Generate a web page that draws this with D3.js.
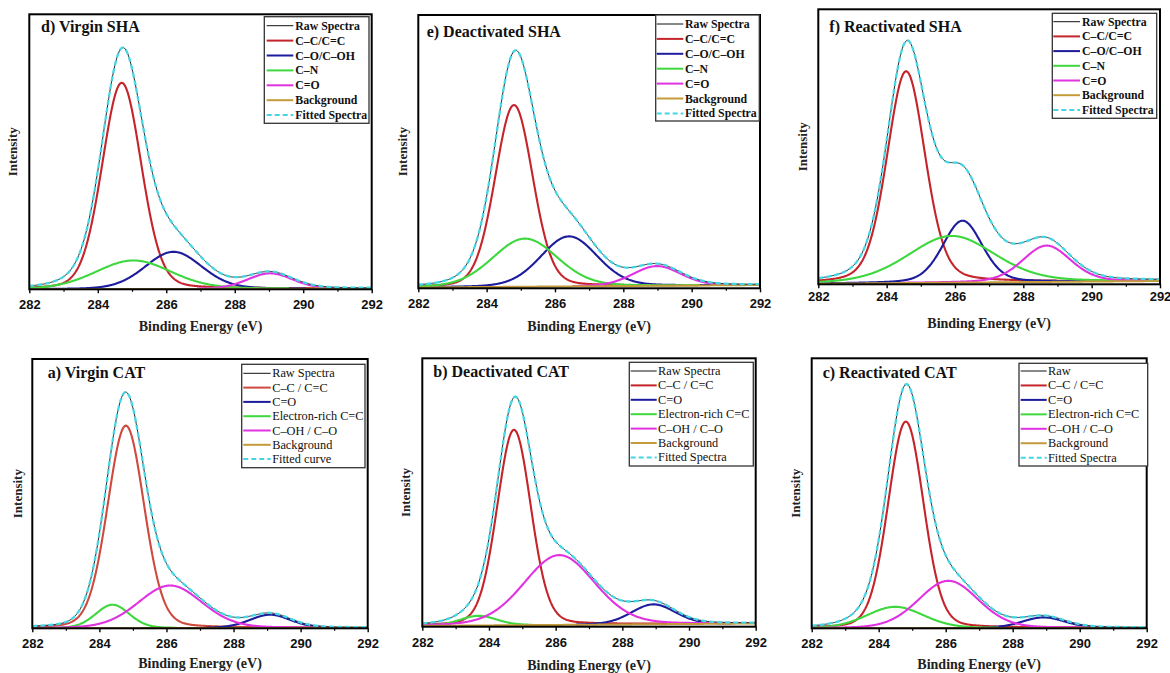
<!DOCTYPE html>
<html>
<head>
<meta charset="utf-8">
<script src="https://cdn.jsdelivr.net/npm/d3@7"></script>
<style>
  body { margin: 0; background: #fff; }
</style>
</head>
<body>
<svg id="fig" width="1170" height="673"></svg>
<script>
// ---------- C 1s deconvolution results (binding energy in eV, intensity in normalised units) ----------
const energyDomain = [282, 292];
const energyTicks = [282, 284, 286, 288, 290, 292];
const minorTicks = [283, 285, 287, 289, 291];

const panelTitles = ["d) Virgin SHA", "e) Deactivated SHA", "f) Reactivated SHA",
                     "a) Virgin CAT", "b) Deactivated CAT", "c) Reactivated CAT"];

// legend entries: raw, four components, background, fit
const shaLegend = ["Raw Spectra", "C–C/C=C", "C–O/C–OH", "C–N", "C=O", "Background", "Fitted Spectra"];
const catLegendA = ["Raw Spectra", "C–C / C=C", "C=O", "Electron-rich C=C", "C–OH / C–O", "Background", "Fitted curve"];
const catLegendB = ["Raw Spectra", "C–C / C=C", "C=O", "Electron-rich C=C", "C–OH / C–O", "Background", "Fitted Spectra"];
const catLegendC = ["Raw", "C–C / C=C", "C=O", "Electron-rich C=C", "C–OH / C–O", "Background", "Fitted Spectra"];

// component order per panel follows the legend (entries 2–5)
// d) Virgin SHA: C–C/C=C, C–O/C–OH, C–N, C=O
const dCentres = [284.70, 286.21, 285.04, 289.03];
const dHeights = [75.0, 13.5, 10.4, 5.6];
const dFwhm    = [1.35, 1.95, 2.6, 1.55];
const dBackground = [0.0, 0.3];
// e) Deactivated SHA
const eCentres = [284.80, 286.41, 285.12, 288.98];
const eHeights = [66.5, 18.3, 17.6, 7.2];
const eFwhm    = [1.30, 1.95, 2.24, 1.65];
const eBackground = [0.3, 1.2];
// f) Reactivated SHA
const fCentres = [284.57, 286.22, 285.90, 288.68];
const fHeights = [77.0, 22.5, 17.0, 13.2];
const fFwhm    = [1.32, 1.37, 3.0, 1.66];
const fBackground = [0.2, 1.2];
// a) Virgin CAT: C–C/C=C, C=O, electron-rich C=C, C–OH/C–O
const aCentres = [284.79, 289.09, 284.39, 286.11];
const aHeights = [75.2, 4.9, 8.7, 15.8];
const aFwhm    = [1.29, 1.44, 1.19, 2.24];
const aBackground = [0.0, 0.2];
// b) Deactivated CAT
const bCentres = [284.75, 288.93, 283.68, 286.11];
const bHeights = [72.8, 7.4, 3.6, 26.0];
const bFwhm    = [1.20, 1.55, 1.30, 2.50];
const bBackground = [0.3, 1.2];
// c) Reactivated CAT
const cCentres = [284.81, 288.92, 284.49, 286.08];
const cHeights = [76.5, 3.9, 7.9, 17.5];
const cFwhm    = [1.25, 1.50, 2.00, 2.10];
const cBackground = [0.0, 0.2];

// Lorentzian fraction of the pseudo-Voigt line shape used by each fit
const lorentzFraction = [0.15, 0.15, 0.25, 0.15, 0.15, 0.15];

const panels = [
  { centres: dCentres, heights: dHeights, fwhm: dFwhm, bg: dBackground, legend: shaLegend },
  { centres: eCentres, heights: eHeights, fwhm: eFwhm, bg: eBackground, legend: shaLegend },
  { centres: fCentres, heights: fHeights, fwhm: fFwhm, bg: fBackground, legend: shaLegend },
  { centres: aCentres, heights: aHeights, fwhm: aFwhm, bg: aBackground, legend: catLegendA },
  { centres: bCentres, heights: bHeights, fwhm: bFwhm, bg: bBackground, legend: catLegendB },
  { centres: cCentres, heights: cHeights, fwhm: cFwhm, bg: cBackground, legend: catLegendC }
];

// ---------- layout & style ----------
const serif = "'Liberation Serif', 'Times New Roman', serif";
const sans = "'Liberation Sans', Arial, sans-serif";

const layout = [
  { L: 29.3,  R: 371.7,  T: 14.3,  B: 289.3, tx: 41,    ty: 32,    yl: 12.8,  tickDy: 20,   xlDy: 42,
    leg: { x: 264.3,  y: 16.7,  w: 104.7, h: 106.6, r0: 25.7,  dy: 14.9,  l1: 2.4, l2: 29,   t: 31,   fs: 11.8, fw: "bold" } },
  { L: 418.3, R: 760,    T: 15,    B: 288.3, tx: 426.7, ty: 37,    yl: 402.5, tickDy: 20,   xlDy: 43,
    leg: { x: 655.7,  y: 15,    w: 103.6, h: 106,   r0: 24,    dy: 14.9,  l1: 1.0, l2: 27.6, t: 29.3, fs: 11.8, fw: "bold" } },
  { L: 818.3, R: 1160,   T: 9.3,   B: 284.3, tx: 829.3, ty: 31.7,  yl: 802,   tickDy: 16.7, xlDy: 44,
    leg: { x: 1052.3, y: 13.3,  w: 104.4, h: 105,   r0: 21.7,  dy: 14.7,  l1: 1.0, l2: 27.7, t: 29.7, fs: 11.8, fw: "bold" } },
  { L: 32.3,  R: 367.7,  T: 359,   B: 628.3, tx: 47.7,  ty: 378.3, yl: 17.5,  tickDy: 20,   xlDy: 40,
    leg: { x: 241.7,  y: 364.3, w: 123.3, h: 103.4, r0: 373.3, dy: 14.3,  l1: 1.6, l2: 29,   t: 30.5, fs: 12.3, fw: "normal" } },
  { L: 422.3, R: 755.7,  T: 358.3, B: 626.7, tx: 433.3, ty: 376.7, yl: 405,   tickDy: 20.6, xlDy: 43,
    leg: { x: 629.3,  y: 362.3, w: 124,   h: 103.7, r0: 371,   dy: 14.4,  l1: 1.4, l2: 27.4, t: 28.8, fs: 12.3, fw: "normal" } },
  { L: 811.7, R: 1146.7, T: 358.3, B: 628.3, tx: 822.7, ty: 377.7, yl: 795,   tickDy: 19.7, xlDy: 41,
    leg: { x: 1019,   y: 363.3, w: 128.7, h: 102.7, r0: 371,   dy: 14.45, l1: 1.7, l2: 27.7, t: 29,   fs: 12.3, fw: "normal" } }
];

const redSHA = "#c4242a", redCAT = "#cf4a3e";
const colBlue = "#1c1c9c", colGreen = "#3ed83e", colMagenta = "#e032e0";
const colBg = "#c49a3a", colFit = "#45d6e6";

const svg = d3.select("#fig");

function pseudoVoigt(e, c, h, w, eta) {
  const u = (e - c) / w;
  return h * ((1 - eta) * Math.exp(-4 * Math.LN2 * u * u) + eta / (1 + 4 * u * u));
}

const grid = d3.range(energyDomain[0], energyDomain[1] + 1e-9, 0.02);

panels.forEach((p, i) => {
  const lay = layout[i];
  // SHA: C–O is blue, C–N green, C=O magenta; CAT: C=O blue, e-rich green, C–OH magenta
  const colours = [i === 3 ? redCAT : redSHA, colBlue, colGreen, colMagenta];
  const x = d3.scaleLinear().domain(energyDomain).range([lay.L, lay.R]);
  const y = d3.scaleLinear().domain([0, 100]).range([lay.B, lay.T]);

  const g = svg.append("g");
  const clipId = "clip" + i;
  g.append("clipPath").attr("id", clipId)
    .append("rect").attr("x", lay.L).attr("y", lay.T)
    .attr("width", lay.R - lay.L).attr("height", lay.B - lay.T);

  const bgAt = e => p.bg[0] + (p.bg[1] - p.bg[0]) * (e - energyDomain[0]) / (energyDomain[1] - energyDomain[0]);
  const comps = p.centres.map((c, k) =>
    grid.map(e => ({ e, v: pseudoVoigt(e, c, p.heights[k], p.fwhm[k], lorentzFraction[i]) })));
  const envelope = grid.map((e, j) => ({ e, v: bgAt(e) + d3.sum(comps, cp => cp[j].v) }));

  const line = d3.line().x(d => x(d.e)).y(d => y(d.v)).curve(d3.curveLinear);
  const plot = g.append("g").attr("clip-path", `url(#${clipId})`);

  // components, drawn on top of the background where they are non-negligible
  comps.forEach((cp, k) => {
    const pts = cp.filter(d => d.v > 0.12).map(d => ({ e: d.e, v: d.v + bgAt(d.e) }));
    plot.append("path").datum(pts)
      .attr("d", line).attr("fill", "none")
      .attr("stroke", colours[k]).attr("stroke-width", 2.1)
      .attr("stroke-linejoin", "round");
  });
  // background
  plot.append("path").datum(grid.map(e => ({ e, v: bgAt(e) })))
    .attr("d", line).attr("fill", "none").attr("stroke", colBg).attr("stroke-width", 2);
  // raw spectrum
  plot.append("path").datum(envelope)
    .attr("d", line).attr("fill", "none").attr("stroke", "#222").attr("stroke-width", 1);
  // fitted envelope
  plot.append("path").datum(envelope)
    .attr("d", line).attr("fill", "none").attr("stroke", colFit)
    .attr("stroke-width", 2.3).attr("stroke-dasharray", "5,3");

  // axes
  const ax = g.append("g").attr("transform", `translate(0,${lay.B})`)
    .call(d3.axisBottom(x).tickValues(energyTicks).tickSize(4).tickSizeOuter(0));
  ax.select(".domain").remove();
  ax.selectAll("line").attr("stroke", "#000").attr("stroke-width", 1.4);
  ax.selectAll("text")
    .attr("y", lay.tickDy).attr("dy", 0)
    .attr("font-family", sans).attr("font-size", 13).attr("font-weight", "bold").attr("fill", "#111");
  const axm = g.append("g").attr("transform", `translate(0,${lay.B})`)
    .call(d3.axisBottom(x).tickValues(minorTicks).tickSize(2.5).tickFormat(""));
  axm.select(".domain").remove();
  axm.selectAll("line").attr("stroke", "#000").attr("stroke-width", 1.2);

  // frame
  g.append("rect").attr("x", lay.L).attr("y", lay.T)
    .attr("width", lay.R - lay.L).attr("height", lay.B - lay.T)
    .attr("fill", "none").attr("stroke", "#000").attr("stroke-width", 2);

  // axis titles
  g.append("text").attr("x", (lay.L + lay.R) / 2).attr("y", lay.B + lay.xlDy)
    .attr("text-anchor", "middle").attr("font-family", serif).attr("font-weight", "bold")
    .attr("font-size", 14).attr("fill", "#222").text("Binding Energy (eV)");
  g.append("text")
    .attr("transform", `translate(${lay.yl},${(lay.T + lay.B) / 2}) rotate(-90)`)
    .attr("text-anchor", "middle").attr("dominant-baseline", "central")
    .attr("font-family", serif).attr("font-weight", "bold").attr("font-size", 13)
    .attr("fill", "#222").text("Intensity");

  // panel title
  g.append("text").attr("x", lay.tx).attr("y", lay.ty)
    .attr("font-family", serif).attr("font-weight", "bold").attr("font-size", 16)
    .attr("fill", "#111").text(panelTitles[i]);

  // legend
  const lg = lay.leg;
  const legColours = ["#111", colours[0], colours[1], colours[2], colours[3], colBg, colFit];
  const L = g.append("g");
  L.append("rect").attr("x", lg.x).attr("y", lg.y).attr("width", lg.w).attr("height", lg.h)
    .attr("fill", "#fff").attr("stroke", "#333").attr("stroke-width", 1.3);
  p.legend.forEach((label, k) => {
    const yy = lg.r0 + k * lg.dy;
    L.append("line").attr("x1", lg.x + lg.l1).attr("x2", lg.x + lg.l2)
      .attr("y1", yy).attr("y2", yy)
      .attr("stroke", legColours[k]).attr("stroke-width", k === 0 ? 1 : 2)
      .attr("stroke-dasharray", k === 6 ? "5,3" : null);
    L.append("text").attr("x", lg.x + lg.t).attr("y", yy)
      .attr("dominant-baseline", "central")
      .attr("font-family", serif).attr("font-size", lg.fs).attr("font-weight", lg.fw)
      .attr("fill", "#111").text(label);
  });
});
</script>
</body>
</html>
